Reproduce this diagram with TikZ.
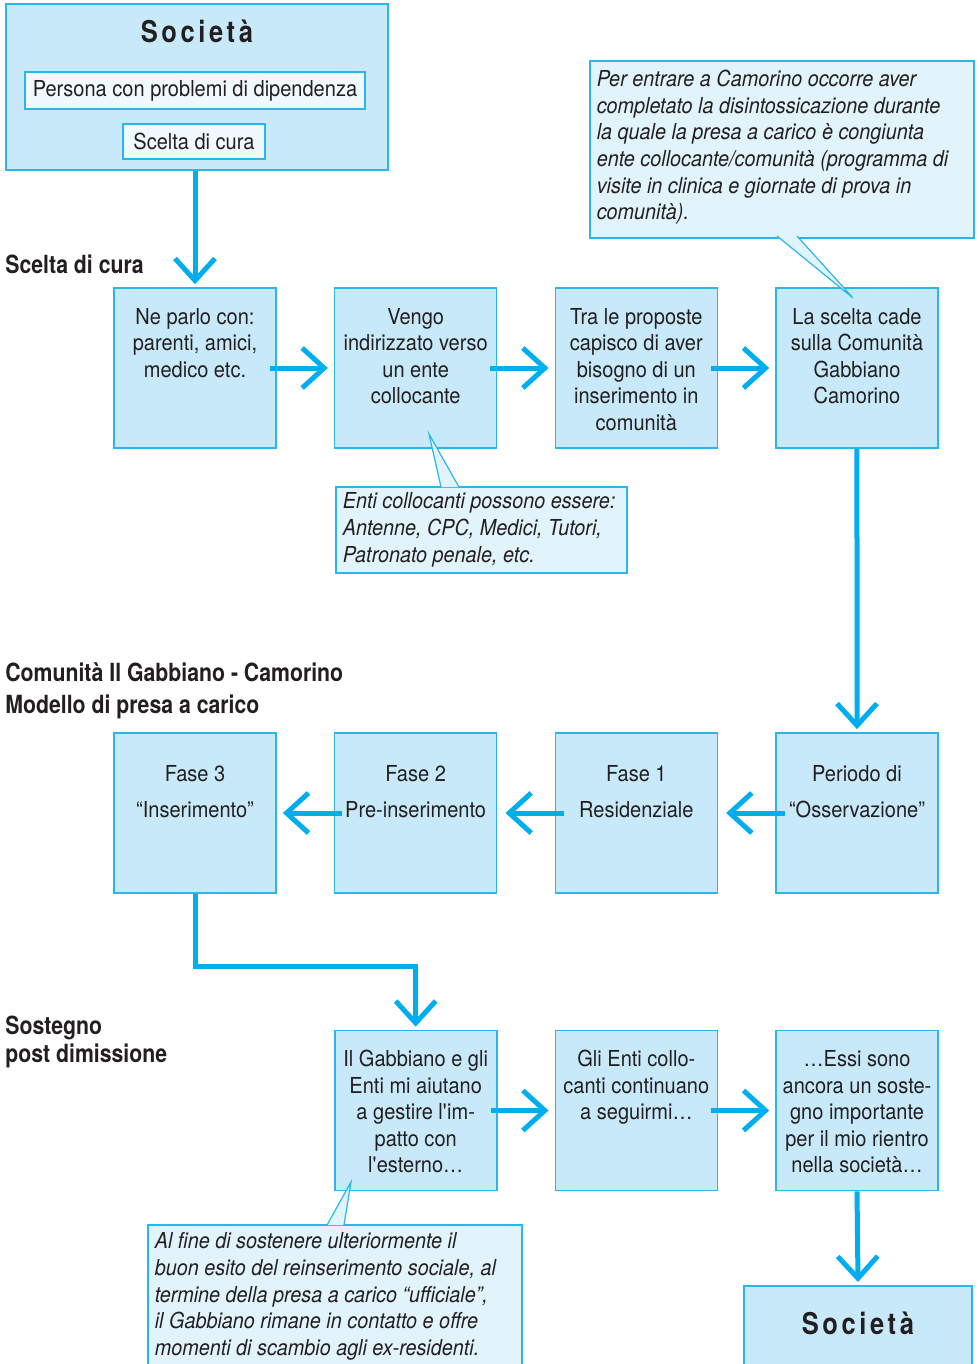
\documentclass[tikz,border=0pt]{standalone}
\usepackage{fontspec}
\setmainfont{TeX Gyre Heros}[
  UprightFeatures={FakeStretch=0.91},
  BoldFeatures={FakeStretch=0.85},
  ItalicFeatures={FakeStretch=0.9}]
\usetikzlibrary{arrows.meta}
\usetikzlibrary{positioning}

\definecolor{gcyan}{RGB}{0,174,239}
\definecolor{gline}{RGB}{41,182,236}
\definecolor{gfill}{RGB}{199,233,249}
\definecolor{nfill}{RGB}{225,243,251}
\definecolor{ifill}{RGB}{240,249,254}
\definecolor{gtext}{RGB}{35,31,32}

% text of a box, held at the top of the box
\newcommand{\toptxt}[2]{\parbox[c][80pt][t]{81pt}{\centering\rule{0pt}{#1}#2}}
\newcommand{\soctitle}{{\fontsize{15}{18}\selectfont\bfseries\addfontfeature{LetterSpace=12}Società}}

\tikzset{
    fase/.style={
           rectangle,
           draw=gline, line width=0.8pt,
           fill=gfill,
           minimum width=81pt,
           minimum height=80pt,
           inner sep=0pt,
           text=gtext,
           font=\fontsize{11}{13.25}\selectfont,
           },
    nota/.style={
           rectangle,
           draw=gline, line width=0.8pt,
           fill=nfill,
           inner xsep=3.5pt, inner ysep=0pt,
           anchor=north west,
           text=gtext,
           font=\fontsize{11}{13.3}\selectfont\itshape,
           },
    innerbox/.style={
           rectangle,
           draw=gline, line width=0.8pt,
           fill=ifill,
           inner sep=0pt,
           text=gtext,
           font=\fontsize{11}{13}\selectfont,
           },
    titolo/.style={anchor=west, align=left, inner sep=0pt, text=gtext,
           font=\fontsize{12.5}{16}\selectfont\bfseries},
    flow/.style={draw=gcyan, line width=2.5pt, -{Straight Barb[length=11pt,width=20pt]}},
    pointer/.style={draw=gline, line width=0.6pt},
}

\begin{document}
\begin{tikzpicture}[x=0.5pt,y=-0.5pt]
  \newlength{\fasespace}
  \setlength{\fasespace}{110.33pt}
  \useasboundingbox (0,0) rectangle (979,1364);

  % society at the start
  \node[fase, minimum width=191pt, minimum height=83pt] (SOC) at (197,87)
    {\parbox[c][83pt][t]{191pt}{\centering\rule{0pt}{19.5pt}\soctitle}};
  \node[innerbox, minimum width=170pt, minimum height=18.5pt] (PERSONA) at (195,90.5)
    {Persona con problemi di dipendenza};
  \node[innerbox, minimum width=71pt, minimum height=17.5pt] (SCELTA) at (194,141.5)
    {Scelta di cura};

  % section labels
  \node[titolo] (LSCELTA) at (5,264) {Scelta di cura};
  \node[titolo] (LMODELLO) at (5,691) {Comunità Il Gabbiano - Camorino\\Modello di presa a carico};
  \node[titolo] (LSOSTEGNO) at (5,1042) {Sostegno\\[-2pt]post dimissione};

  % first row: choice of care
  \node[fase] (NEPARLO) at (195,368)
    {\toptxt{18pt}{Ne parlo con:\\parenti, amici,\\medico etc.}};
  \node[fase, right of=NEPARLO, node distance=\fasespace] (VENGO)
    {\toptxt{18pt}{Vengo\\indirizzato verso\\un ente\\collocante}};
  \node[fase, right of=VENGO, node distance=\fasespace] (PROPOSTE)
    {\toptxt{18pt}{Tra le proposte\\capisco di aver\\bisogno di un\\inserimento in\\comunità}};
  \node[fase, right of=PROPOSTE, node distance=\fasespace] (CADE)
    {\toptxt{18pt}{La scelta cade\\sulla Comunità\\Gabbiano\\Camorino}};

  % second row: model, from right to left
  \node[fase] (PERIODO) at (857,813)
    {\toptxt{24pt}{Periodo di\\[5pt]“Osservazione”}};
  \node[fase, left of=PERIODO, node distance=\fasespace] (FASE1)
    {\toptxt{24pt}{Fase 1\\[5pt]Residenziale}};
  \node[fase, left of=FASE1, node distance=\fasespace] (FASE2)
    {\toptxt{24pt}{Fase 2\\[5pt]Pre-inserimento}};
  \node[fase, left of=FASE2, node distance=\fasespace] (FASE3)
    {\toptxt{24pt}{Fase 3\\[5pt]“Inserimento”}};

  % third row: support after discharge
  \node[fase] (GAB) at (415.7,1110.5)
    {\toptxt{18pt}{Il Gabbiano e gli\\Enti mi aiutano\\a gestire l\textquotesingle im-\\patto con\\l\textquotesingle esterno…}};
  \node[fase, right of=GAB, node distance=\fasespace] (ENTI)
    {\toptxt{18pt}{Gli Enti collo-\\canti continuano\\a seguirmi…}};
  \node[fase, right of=ENTI, node distance=\fasespace] (ESSI)
    {\toptxt{18pt}{…Essi sono\\ancora un soste-\\gno importante\\per il mio rientro\\nella società…}};

  % society at the end
  \node[fase, anchor=north, minimum width=114pt, minimum height=50pt] (SOCFINE) at (858,1285)
    {\parbox[c][50pt][t]{114pt}{\centering\rule{0pt}{24.5pt}\soctitle}};

  % notes
  \node[nota] (NOTA1) at (589,60)
    {\parbox[c][88.5pt][t]{185pt}{\raggedright\rule{0pt}{13pt}Per entrare a Camorino occorre aver\\
     completato la disintossicazione durante\\la quale la presa a carico è congiunta\\
     ente collocante/comunità (programma di\\visite in clinica e giornate di prova in\\comunità).}};
  \node[nota] (NOTA2) at (335,486)
    {\parbox[c][43pt][t]{138.5pt}{\raggedright\rule{0pt}{11pt}Enti collocanti possono essere:\\
     Antenne, CPC, Medici, Tutori,\\Patronato penale, etc.}};
  \node[nota] (NOTA3) at (147,1224)
    {\parbox[c][78pt][t]{180pt}{\raggedright\rule{0pt}{12pt}Al fine di sostenere ulteriormente il\\
     buon esito del reinserimento sociale, al\\termine della presa a carico “ufficiale”,\\
     il Gabbiano rimane in contatto e offre\\momenti di scambio agli ex-residenti.}};

  % pointers of the notes
  \coordinate (P1a) at (777,236); \coordinate (P1b) at (797,236); \coordinate (P1) at (853,298);
  \coordinate (P2a) at (441,487); \coordinate (P2b) at (459,487); \coordinate (P2) at (429,434);
  \coordinate (P3a) at (327,1225); \coordinate (P3b) at (344,1225); \coordinate (P3) at (351,1182);
  \fill[nfill] (P1a) -- (P1) -- (P1b) -- cycle;
  \fill[nfill] (P2a) -- (P2) -- (P2b) -- cycle;
  \fill[nfill] (P3a) -- (P3) -- (P3b) -- cycle;
  \draw[pointer] (P1a) -- (P1) -- (P1b);
  \draw[pointer] (P2a) -- (P2) -- (P2b);
  \draw[pointer] (P3a) -- (P3) -- (P3b);

  % the flow
  \draw[flow] (SOC.south -| NEPARLO) -- ([yshift=1.5pt]NEPARLO.north);
  \draw[flow] ([xshift=-3.5pt]NEPARLO.east) -- ([xshift=-3pt]VENGO.west);
  \draw[flow] ([xshift=-3.5pt]VENGO.east) -- ([xshift=-3pt]PROPOSTE.west);
  \draw[flow] ([xshift=-3.5pt]PROPOSTE.east) -- ([xshift=-3pt]CADE.west);
  \draw[flow] (CADE.south) -- ([yshift=1.5pt]PERIODO.north);
  \draw[flow] ([xshift=5pt]PERIODO.west) -- ([xshift=4pt]FASE1.east);
  \draw[flow] ([xshift=4.5pt]FASE1.west) -- ([xshift=4pt]FASE2.east);
  \draw[flow] ([xshift=4pt]FASE2.west) -- ([xshift=3pt]FASE3.east);
  \draw[flow] (FASE3.south) -- ++(0,73) -| ([yshift=1.5pt]GAB.north);
  \draw[flow] ([xshift=-3.5pt]GAB.east) -- ([xshift=-3pt]ENTI.west);
  \draw[flow] ([xshift=-3.5pt]ENTI.east) -- ([xshift=-3pt]ESSI.west);
  \draw[flow] (ESSI.south) -- ([yshift=1.5pt]SOCFINE.north);
\end{tikzpicture}
\end{document}
